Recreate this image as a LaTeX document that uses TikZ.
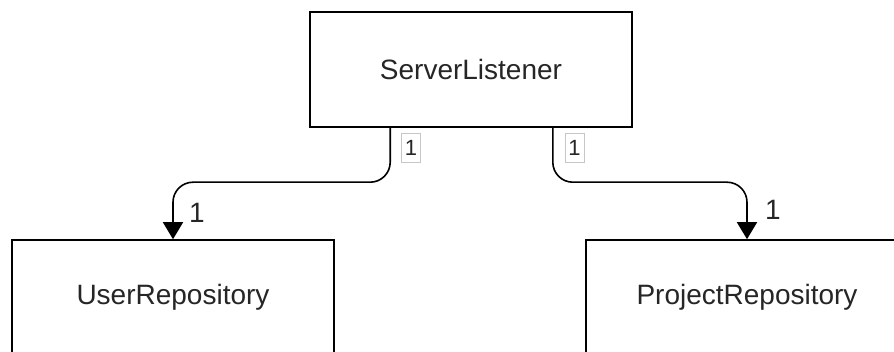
\documentclass[tikz,border=0pt]{standalone}
\usepackage{fontspec}
\setmainfont{Liberation Sans}
\usetikzlibrary{arrows.meta}
\begin{document}
\begin{tikzpicture}[x=1pt,y=-1pt,
  classbox/.style={draw=black, line width=1.6pt, fill=white, inner sep=0pt,
    minimum width=322pt, minimum height=115pt,
    font=\fontsize{28}{32}\selectfont, text=black!85},
  conn/.style={draw=black, line width=1.6pt, rounded corners=20pt,
    -{Triangle[width=20pt,length=17pt]}},
  mult/.style={font=\fontsize{28}{32}\selectfont, text=black!85, inner sep=0pt},
  multbox/.style={draw=black!22, line width=0.6pt, fill=white,
    font=\fontsize{22}{24}\selectfont, text=black!85,
    minimum width=19pt, minimum height=29pt, inner sep=0pt}]
  \useasboundingbox (0,0) rectangle (894,352);

  % classes
  \node[classbox] (sl) at (471,69.5) {ServerListener};
  \node[classbox] (ur) at (173,297.5) {UserRepository};
  \node[classbox] (pr) at (747,297.5) {ProjectRepository};

  % associations
  \draw[conn] ([xshift=81pt]sl.south west) |- ([yshift=57pt]ur.north) -- (ur.north);
  \draw[conn] ([xshift=-80pt]sl.south east) |- ([yshift=57pt]pr.north) -- (pr.north);

  % multiplicities
  \node[multbox] (m1) at (411,147.5) {1};
  \node[multbox] (m2) at (574.5,147.5) {1};
  \node[mult] (m3) at (197,213) {1};
  \node[mult] (m4) at (773,210) {1};
\end{tikzpicture}
\end{document}
